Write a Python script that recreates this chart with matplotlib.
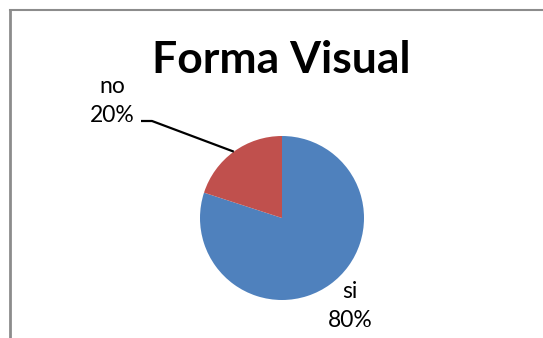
import numpy as np
import matplotlib
matplotlib.use("Agg")
import matplotlib.pyplot as plt
from matplotlib.lines import Line2D

categories = ["si", "no"]
values = [80, 20]
colors = ["#4F81BD", "#C0504D"]
title = "Forma Visual"

W, H = 543, 338
fig = plt.figure(figsize=(W / 100, H / 100), dpi=100)
ax = fig.add_axes([0, 0, 1, 1])

cx, cy, r = 282, H - 218, 82
wedges, _ = ax.pie(values, colors=colors, startangle=90, counterclock=False,
                   center=(cx, cy), radius=r, frame=True,
                   wedgeprops=dict(linewidth=0))
ax.set_xlim(0, W)
ax.set_ylim(0, H)
ax.set_aspect("equal")
ax.axis("off")

font = "Lato"
pct = [f"{v / sum(values) * 100:.0f}%" for v in values]

# si label
ax.text(350, H - 306, f"{categories[0]}\n{pct[0]}", ha="center", va="center",
        fontsize=16.5, family=font, linespacing=1.45)
# no label with leader line
ax.text(112, H - 101, f"{categories[1]}\n{pct[1]}", ha="center", va="center",
        fontsize=16.5, family=font, linespacing=1.45)
w = wedges[1]
mid = np.deg2rad((w.theta1 + w.theta2) / 2)
ex, ey = cx + r * np.cos(mid), cy + r * np.sin(mid)
ax.plot([ex, 152, 141], [ey, H - 121, H - 121], color="black", lw=1.6,
        solid_capstyle="butt")

fig.text(281 / W, 1 - 60 / H, title, ha="center", va="center",
         fontsize=32, fontweight="bold", family=font)

# chart frame
fig.add_artist(Line2D([9.5 / W, 9.5 / W], [0, 1 - 10 / H], transform=fig.transFigure,
                      color="#8c8c8c", lw=2))
fig.add_artist(Line2D([9.5 / W, 1], [1 - 10 / H, 1 - 10 / H], transform=fig.transFigure,
                      color="#8c8c8c", lw=1.5))

fig.savefig("out.png", dpi=100, facecolor="white")
